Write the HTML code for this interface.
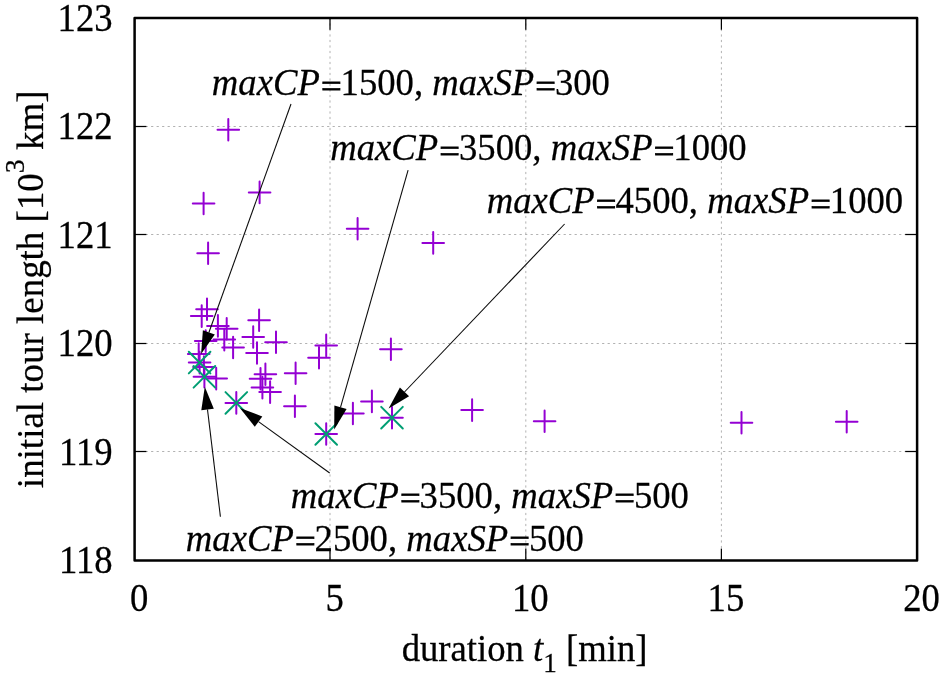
<!DOCTYPE html>
<html><head><meta charset="utf-8"><title>plot</title>
<style>
html,body{margin:0;padding:0;background:#fff;}
svg{display:block;}
text{font-family:"Liberation Serif","Times New Roman",serif;fill:#000;stroke:#000;stroke-width:0.25px;}
.i{font-style:italic;}
</style></head><body>
<svg width="945" height="678" viewBox="0 0 945 678">
<rect x="0" y="0" width="945" height="678" fill="#ffffff"/>

<g stroke="#b2b2b2" stroke-width="1" stroke-dasharray="2.2 3.3" fill="none">
<line x1="330.0" y1="17.9" x2="330.0" y2="560.4"/>
<line x1="525.8" y1="17.9" x2="525.8" y2="560.4"/>
<line x1="721.4" y1="17.9" x2="721.4" y2="560.4"/>
<line x1="134.6" y1="451.5" x2="917.0" y2="451.5"/>
<line x1="134.6" y1="343.5" x2="917.0" y2="343.5"/>
<line x1="134.6" y1="234.5" x2="917.0" y2="234.5"/>
<line x1="134.6" y1="126.5" x2="917.0" y2="126.5"/>
</g>
<g stroke="#000" stroke-width="1.25" fill="none">
<line x1="330.0" y1="560.4" x2="330.0" y2="548.6"/>
<line x1="330.0" y1="17.9" x2="330.0" y2="29.7"/>
<line x1="525.8" y1="560.4" x2="525.8" y2="548.6"/>
<line x1="525.8" y1="17.9" x2="525.8" y2="29.7"/>
<line x1="721.4" y1="560.4" x2="721.4" y2="548.6"/>
<line x1="721.4" y1="17.9" x2="721.4" y2="29.7"/>
<line x1="134.6" y1="451.5" x2="146.4" y2="451.5"/>
<line x1="917.0" y1="451.5" x2="905.2" y2="451.5"/>
<line x1="134.6" y1="343.5" x2="146.4" y2="343.5"/>
<line x1="917.0" y1="343.5" x2="905.2" y2="343.5"/>
<line x1="134.6" y1="234.5" x2="146.4" y2="234.5"/>
<line x1="917.0" y1="234.5" x2="905.2" y2="234.5"/>
<line x1="134.6" y1="126.5" x2="146.4" y2="126.5"/>
<line x1="917.0" y1="126.5" x2="905.2" y2="126.5"/>
</g>
<g stroke="#9400d3" stroke-width="2" stroke-linecap="round" fill="none">
<path d="M196.2 309.3H217.8M207.0 298.5V320.1"/>
<path d="M190.9 316.1H212.5M201.7 305.3V326.9"/>
<path d="M207.1 325.9H228.7M217.9 315.1V336.7"/>
<path d="M215.9 328.7H237.5M226.7 317.9V339.5"/>
<path d="M213.5 339.6H235.1M224.3 328.8V350.4"/>
<path d="M248.3 320.2H269.9M259.1 309.4V331.0"/>
<path d="M242.4 337.0H264.0M253.2 326.2V347.8"/>
<path d="M265.2 342.2H286.8M276.0 331.4V353.0"/>
<path d="M222.3 347.5H243.9M233.1 336.7V358.3"/>
<path d="M194.9 341.1H216.5M205.7 330.3V351.9"/>
<path d="M187.9 354.1H209.5M198.7 343.3V364.9"/>
<path d="M188.8 362.6H210.4M199.6 351.8V373.4"/>
<path d="M193.1 367.1H214.7M203.9 356.3V377.9"/>
<path d="M193.6 376.8H215.2M204.4 366.0V387.6"/>
<path d="M205.4 378.6H227.0M216.2 367.8V389.4"/>
<path d="M246.2 353.0H267.8M257.0 342.2V363.8"/>
<path d="M315.4 345.4H337.0M326.2 334.6V356.2"/>
<path d="M308.2 357.7H329.8M319.0 346.9V368.5"/>
<path d="M284.8 373.2H306.4M295.6 362.4V384.0"/>
<path d="M254.6 374.2H276.2M265.4 363.4V385.0"/>
<path d="M249.7 378.8H271.3M260.5 368.0V389.6"/>
<path d="M251.6 387.6H273.2M262.4 376.8V398.4"/>
<path d="M259.3 392.1H280.9M270.1 381.3V402.9"/>
<path d="M284.1 406.3H305.7M294.9 395.5V417.1"/>
<path d="M225.5 402.9H247.1M236.3 392.1V413.7"/>
<path d="M315.4 434.0H337.0M326.2 423.2V444.8"/>
<path d="M381.2 417.7H402.8M392.0 406.9V428.5"/>
<path d="M342.1 413.5H363.7M352.9 402.7V424.3"/>
<path d="M361.1 401.4H382.7M371.9 390.6V412.2"/>
<path d="M380.1 349.3H401.7M390.9 338.5V360.1"/>
<path d="M217.5 129.7H239.1M228.3 118.9V140.5"/>
<path d="M248.8 192.4H270.4M259.6 181.6V203.2"/>
<path d="M192.8 203.5H214.4M203.6 192.7V214.3"/>
<path d="M197.3 253.2H218.9M208.1 242.4V264.0"/>
<path d="M346.8 228.7H368.4M357.6 217.9V239.5"/>
<path d="M422.4 242.9H444.0M433.2 232.1V253.7"/>
<path d="M461.3 410.1H482.9M472.1 399.3V420.9"/>
<path d="M533.8 421.2H555.4M544.6 410.4V432.0"/>
<path d="M730.7 422.8H752.3M741.5 412.0V433.6"/>
<path d="M835.9 421.7H857.5M846.7 410.9V432.5"/>
</g>
<g stroke="#009e73" stroke-width="2" stroke-linecap="round" fill="none">
<path d="M188.8 351.8L210.4 373.4M188.8 373.4L210.4 351.8"/>
<path d="M193.6 366.0L215.2 387.6M193.6 387.6L215.2 366.0"/>
<path d="M225.5 392.1L247.1 413.7M225.5 413.7L247.1 392.1"/>
<path d="M315.4 423.2L337.0 444.8M315.4 444.8L337.0 423.2"/>
<path d="M381.2 406.9L402.8 428.5M381.2 428.5L402.8 406.9"/>
</g>
<line x1="291.0" y1="104.0" x2="208.9" y2="332.5" stroke="#0a0a0a" stroke-width="1.08"/><polygon points="201.1,354.1 202.9,330.3 214.8,334.6" fill="#000"/>
<line x1="408.1" y1="170.1" x2="340.5" y2="407.4" stroke="#0a0a0a" stroke-width="1.08"/><polygon points="334.2,429.5 334.4,405.6 346.6,409.1" fill="#000"/>
<line x1="564.6" y1="224.0" x2="404.5" y2="392.0" stroke="#0a0a0a" stroke-width="1.08"/><polygon points="388.6,408.6 399.9,387.6 409.1,396.3" fill="#000"/>
<line x1="329.7" y1="473.0" x2="258.5" y2="421.6" stroke="#0a0a0a" stroke-width="1.08"/><polygon points="239.9,408.1 262.3,416.4 254.8,426.7" fill="#000"/>
<line x1="220.4" y1="516.7" x2="207.5" y2="409.5" stroke="#0a0a0a" stroke-width="1.08"/><polygon points="204.8,386.7 213.8,408.8 201.3,410.3" fill="#000"/>
<rect x="134.6" y="17.9" width="782.5" height="542.5" fill="none" stroke="#000" stroke-width="2.5" stroke-linejoin="round"/>
<text transform="translate(112.6,572.9) scale(1,1.07)" font-size="36.7" text-anchor="end">118</text>
<text transform="translate(112.6,464.5) scale(1,1.07)" font-size="36.7" text-anchor="end">119</text>
<text transform="translate(112.6,356.1) scale(1,1.07)" font-size="36.7" text-anchor="end">120</text>
<text transform="translate(112.6,247.8) scale(1,1.07)" font-size="36.7" text-anchor="end">121</text>
<text transform="translate(112.6,139.4) scale(1,1.07)" font-size="36.7" text-anchor="end">122</text>
<text transform="translate(112.6,31.0) scale(1,1.07)" font-size="36.7" text-anchor="end">123</text>
<text transform="translate(139.1,611) scale(1,1.07)" font-size="36.7" text-anchor="middle">0</text>
<text transform="translate(334.7,611) scale(1,1.07)" font-size="36.7" text-anchor="middle">5</text>
<text transform="translate(530.3,611) scale(1,1.07)" font-size="36.7" text-anchor="middle">10</text>
<text transform="translate(725.9,611) scale(1,1.07)" font-size="36.7" text-anchor="middle">15</text>
<text transform="translate(921.5,611) scale(1,1.07)" font-size="36.7" text-anchor="middle">20</text>
<text class="i" transform="translate(211.80,95.3) scale(1,1.04)" font-size="36.7">maxCP</text>
<text transform="translate(320.94,96.7) scale(1,0.88)" font-size="36.7" style="stroke-width:0.9px">=</text>
<text transform="translate(340.54,95.3) scale(1,1.055)" font-size="36.7">1500,</text>
<text class="i" transform="translate(432.29,95.3) scale(1,1.04)" font-size="36.7">maxSP</text>
<text transform="translate(535.31,96.7) scale(1,0.88)" font-size="36.7" style="stroke-width:0.9px">=</text>
<text transform="translate(554.91,95.3) scale(1,1.055)" font-size="36.7">300</text>
<text class="i" transform="translate(330.20,160.4) scale(1,1.04)" font-size="36.7">maxCP</text>
<text transform="translate(439.34,161.8) scale(1,0.88)" font-size="36.7" style="stroke-width:0.9px">=</text>
<text transform="translate(458.94,160.4) scale(1,1.055)" font-size="36.7">3500,</text>
<text class="i" transform="translate(550.69,160.4) scale(1,1.04)" font-size="36.7">maxSP</text>
<text transform="translate(653.71,161.8) scale(1,0.88)" font-size="36.7" style="stroke-width:0.9px">=</text>
<text transform="translate(673.31,160.4) scale(1,1.055)" font-size="36.7">1000</text>
<text class="i" transform="translate(486.70,213.4) scale(1,1.04)" font-size="36.7">maxCP</text>
<text transform="translate(595.84,214.8) scale(1,0.88)" font-size="36.7" style="stroke-width:0.9px">=</text>
<text transform="translate(615.44,213.4) scale(1,1.055)" font-size="36.7">4500,</text>
<text class="i" transform="translate(707.19,213.4) scale(1,1.04)" font-size="36.7">maxSP</text>
<text transform="translate(810.21,214.8) scale(1,0.88)" font-size="36.7" style="stroke-width:0.9px">=</text>
<text transform="translate(829.81,213.4) scale(1,1.055)" font-size="36.7">1000</text>
<text class="i" transform="translate(290.80,507.5) scale(1,1.04)" font-size="36.7">maxCP</text>
<text transform="translate(399.94,508.9) scale(1,0.88)" font-size="36.7" style="stroke-width:0.9px">=</text>
<text transform="translate(419.54,507.5) scale(1,1.055)" font-size="36.7">3500,</text>
<text class="i" transform="translate(511.29,507.5) scale(1,1.04)" font-size="36.7">maxSP</text>
<text transform="translate(614.31,508.9) scale(1,0.88)" font-size="36.7" style="stroke-width:0.9px">=</text>
<text transform="translate(633.91,507.5) scale(1,1.055)" font-size="36.7">500</text>
<text class="i" transform="translate(185.80,550.9) scale(1,1.04)" font-size="36.7">maxCP</text>
<text transform="translate(294.94,552.3) scale(1,0.88)" font-size="36.7" style="stroke-width:0.9px">=</text>
<text transform="translate(314.54,550.9) scale(1,1.055)" font-size="36.7">2500,</text>
<text class="i" transform="translate(406.29,550.9) scale(1,1.04)" font-size="36.7">maxSP</text>
<text transform="translate(509.31,552.3) scale(1,0.88)" font-size="36.7" style="stroke-width:0.9px">=</text>
<text transform="translate(528.91,550.9) scale(1,1.055)" font-size="36.7">500</text>
<text transform="translate(524.6,660.8) scale(1,1.02)" font-size="36.7" text-anchor="middle">duration <tspan class="i">t</tspan><tspan font-size="27.2" dy="10.5">1</tspan><tspan dy="-10.5"> [min]</tspan></text>
<text transform="translate(43.4,289.3) rotate(-90)" font-size="36.95" text-anchor="middle">initial tour length [10<tspan font-size="27.9" dy="-19">3</tspan><tspan dy="19"> km]</tspan></text>
</svg></body></html>
